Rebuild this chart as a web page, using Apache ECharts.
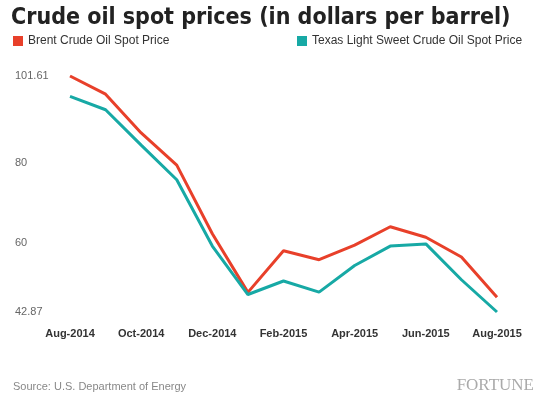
<!DOCTYPE html><html><head><meta charset="utf-8"><script src="https://cdn.jsdelivr.net/npm/echarts@6/dist/echarts.min.js"></script>
<style>body{margin:0}#c{width:545px;height:400px}</style></head><body><div id="c"></div><script>
const categories=['Aug-2014','Sep-2014','Oct-2014','Nov-2014','Dec-2014','Jan-2015','Feb-2015','Mar-2015','Apr-2015','May-2015','Jun-2015','Jul-2015','Aug-2015'];
const brent=[101.61,97.09,87.43,79.44,62.34,47.76,58.10,55.89,59.52,64.08,61.48,56.56,46.52];
const wti=[96.54,93.21,84.40,75.79,59.29,47.22,50.58,47.82,54.45,59.27,59.82,50.90,42.87];
const yTicks=[42.87,60,80,101.61];
const c=echarts.init(document.getElementById('c'));
c.setOption({
 animation:false,
 title:[{text:'Crude oil spot prices (in dollars per barrel)',left:6,top:2,textStyle:{fontFamily:'Liberation Sans Narrow, DejaVu Sans Condensed',fontSize:23,fontWeight:'bold',color:'#222'}},
  {text:'Source: U.S. Department of Energy',left:8,top:376,textStyle:{fontFamily:'Liberation Sans',fontSize:11,fontWeight:'normal',color:'#888'}},
  {text:'FORTUNE',right:6,top:372,textStyle:{fontFamily:'Liberation Serif',fontSize:17,fontWeight:'normal',color:'#aaa'}}],
 legend:[{data:['Brent Crude Oil Spot Price'],left:8,top:30,icon:'rect',itemWidth:10,itemHeight:10,itemGap:6,textStyle:{fontFamily:'Liberation Sans',fontSize:12,color:'#333'}},
  {data:['Texas Light Sweet Crude Oil Spot Price'],left:292,top:30,icon:'rect',itemWidth:10,itemHeight:10,textStyle:{fontFamily:'Liberation Sans',fontSize:12,color:'#333'}}],
 grid:{left:70,right:48,top:76,bottom:88},
 xAxis:{type:'category',data:categories,boundaryGap:false,axisLine:{show:false},axisTick:{show:false},
  axisLabel:{interval:1,margin:16,fontFamily:'Liberation Sans',fontSize:11,fontWeight:'bold',color:'#333'}},
 yAxis:{type:'value',min:42.87,max:101.61,splitLine:{show:false},axisLine:{show:false},axisTick:{show:false},
  axisLabel:{customValues:yTicks,align:'left',margin:55,fontFamily:'Liberation Sans',fontSize:11,color:'#666',formatter:v=>String(v)}},
 series:[{name:'Brent Crude Oil Spot Price',type:'line',data:brent,symbol:'none',lineStyle:{width:3,color:'#e8402a'},itemStyle:{color:'#e8402a'}},
  {name:'Texas Light Sweet Crude Oil Spot Price',type:'line',data:wti,symbol:'none',lineStyle:{width:3,color:'#17a9a5'},itemStyle:{color:'#17a9a5'}}]
});
</script></body></html>
